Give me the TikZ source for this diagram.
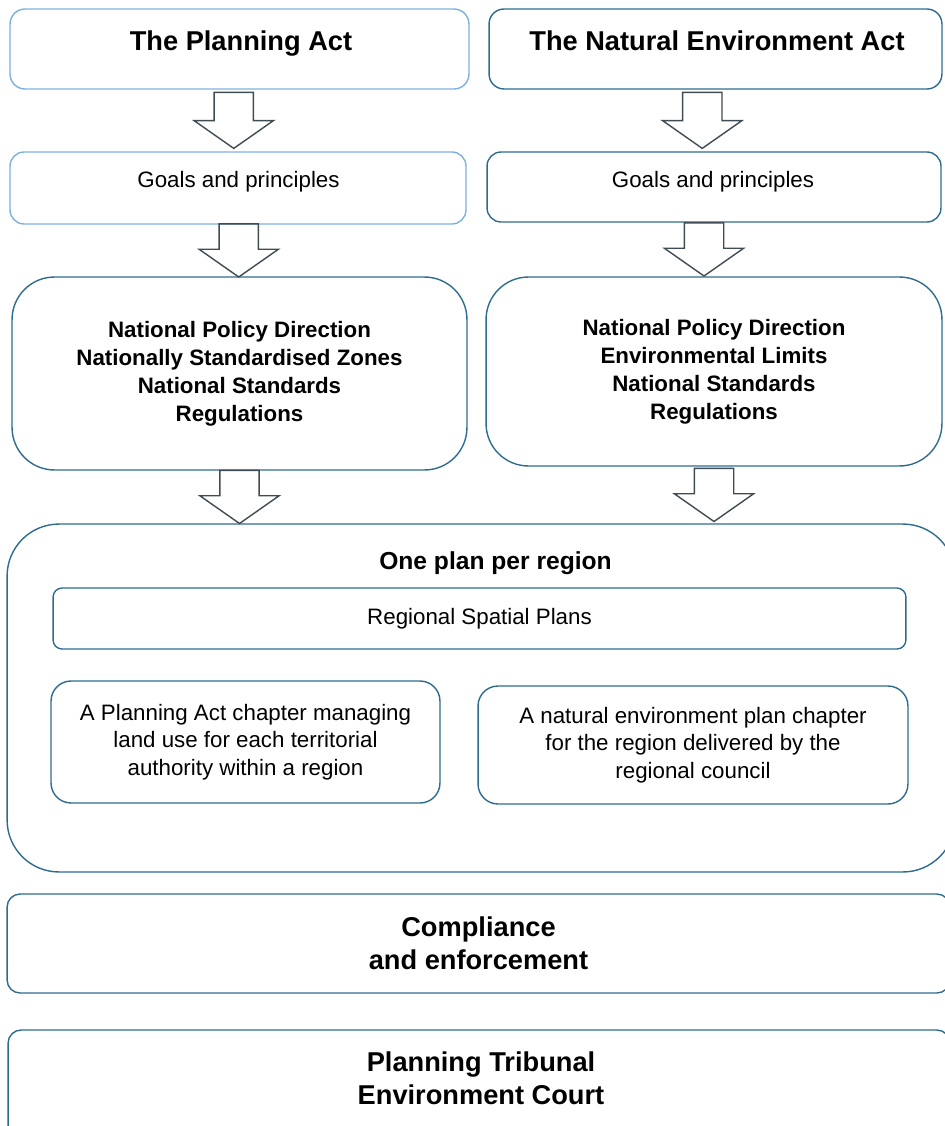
\documentclass[tikz,border=0pt]{standalone}
\usepackage{fontspec}
\setmainfont{Liberation Sans}
\usetikzlibrary{shapes.arrows,positioning}

\definecolor{lightblue}{RGB}{126,176,222}
\definecolor{boxblue}{RGB}{46,108,143}
\definecolor{arrowgray}{RGB}{64,76,84}

\begin{document}
\begin{tikzpicture}[x=0.02cm,y=-0.02cm,line width=0.8pt]
\tikzset{box/.style={draw=boxblue,rounded corners=#1,inner sep=0pt},
  box/.default=0.28cm,
  lbox/.style={box=#1,draw=lightblue},
  lbox/.default=0.28cm,
  downarrow/.style={single arrow,draw=arrowgray,shape border rotate=270,
    text width=0.76cm,text height=0.38cm,text depth=0.38cm,
    minimum height=1.12cm,minimum width=1.56cm,single arrow head extend=0.4cm,
    single arrow tip angle=110,inner sep=0pt,yshift=0.14cm},
  acttitle/.style={font=\bfseries\fontsize{15.5}{18.7}\selectfont,anchor=base},
  bigtext/.style={font=\bfseries\fontsize{15.5}{18.7}\selectfont,align=center},
  listtext/.style={font=\bfseries\fontsize{12.7}{15.9}\selectfont,align=center},
  plaintext/.style={font=\fontsize{12.7}{15.6}\selectfont,align=center}}
\useasboundingbox (0,0) rectangle (945,1126);

% ---------- the two acts ----------
\node[lbox=0.3cm,minimum width=9.18cm,minimum height=1.6cm] (pa) at (239.5,49) {};
\node[box=0.3cm,minimum width=9.06cm,minimum height=1.6cm] (nea) at (715.5,49) {};
\node[acttitle] (paT) at (241,50.5) {The Planning Act};
\node[acttitle] (neaT) at (717,50.5) {The Natural Environment Act};

% ---------- goals ----------
\node[lbox,minimum width=9.12cm,minimum height=1.44cm] (gpl) at (238,188) {};
\node[box,minimum width=9.08cm,minimum height=1.4cm] (gpr) at (714,187) {};
\node[plaintext,anchor=base] (gplT) at (238.5,187) {Goals and principles};
\node[plaintext,anchor=base] (gprT) at (713,187) {Goals and principles};

% ---------- national direction ----------
\node[box=0.85cm,minimum width=9.1cm,minimum height=3.86cm,listtext] (npdl) at (239.5,373.5)
  {National Policy Direction\\Nationally Standardised Zones\\National Standards\\Regulations};
\node[box=0.85cm,minimum width=9.12cm,minimum height=3.78cm,listtext] (npdr) at (714,371.5)
  {National Policy Direction\\Environmental Limits\\National Standards\\Regulations};

% ---------- one plan per region ----------
\node[box=1.04cm,minimum width=18.96cm,minimum height=6.96cm] (region) at (481,698) {};
\node[font=\bfseries\fontsize{14}{17}\selectfont] (regionT) at (495.5,563.6) {One plan per region};
\node[box=0.18cm,minimum width=17.06cm,minimum height=1.22cm,plaintext] (rsp) at (479.5,618.5) {Regional Spatial Plans};
\node[box=0.4cm,minimum width=7.78cm,minimum height=2.44cm,plaintext] (chl) at (245.5,742)
  {A Planning Act chapter managing\\land use for each territorial\\authority within a region};
\node[box=0.4cm,minimum width=8.6cm,minimum height=2.36cm,plaintext] (chr) at (693,745)
  {A natural environment plan chapter\\for the region delivered by the\\regional council};

% ---------- bottom ----------
\node[box=0.26cm,minimum width=18.86cm,minimum height=1.98cm,bigtext] (comp) at (478.5,943.5) {Compliance\\and enforcement};
\node[box=0.26cm,minimum width=18.84cm,minimum height=2.2cm] (trib) at (479,1085) {};
\node[bigtext] (tribT) at (481,1078) {Planning Tribunal\\Environment Court};

% ---------- arrows ----------
\path (pa.south) -- node[downarrow,xshift=-0.1cm] (a1l) {} (gpl.north);
\path (nea.south) -- node[downarrow,xshift=-0.25cm] (a1r) {} (gpr.north);
\path (gpl.south) -- node[downarrow,minimum height=1cm] (a2l) {} (npdl.north);
\path (gpr.south) -- node[downarrow,minimum height=1.02cm,xshift=-0.2cm] (a2r) {} (npdr.north);
\path (npdl.south) -- node[downarrow,minimum height=1.04cm] (a3l) {} (npdl.south |- region.north);
\path (npdr.south) -- node[downarrow,minimum height=1.06cm] (a3r) {} (npdr.south |- region.north);

\end{tikzpicture}
\end{document}
